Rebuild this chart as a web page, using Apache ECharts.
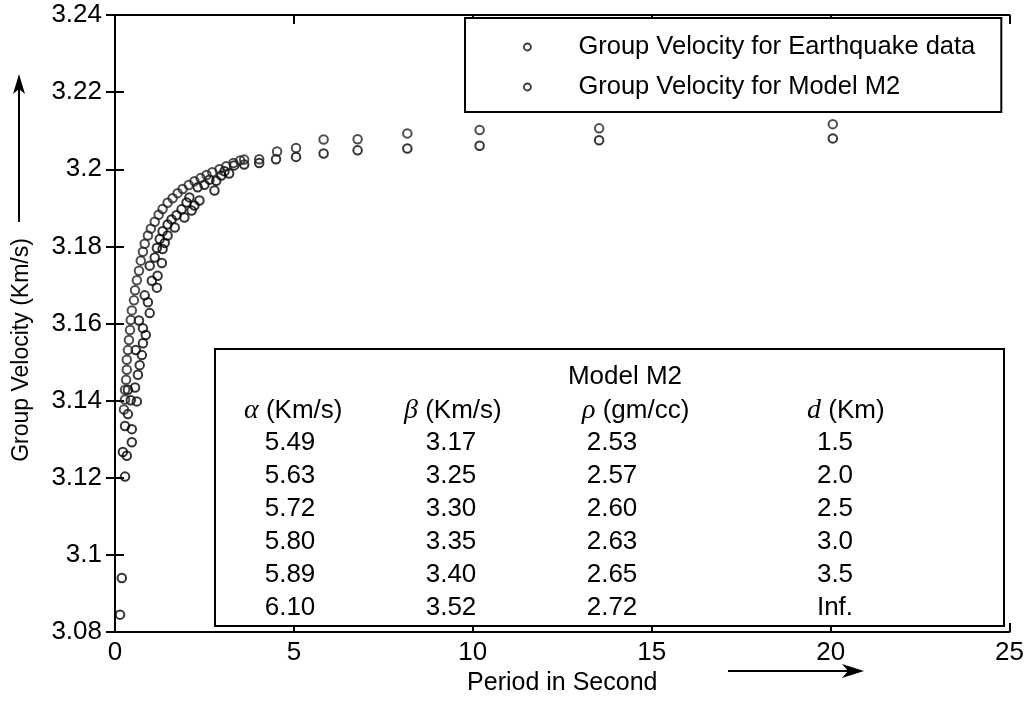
<!DOCTYPE html>
<html><head><meta charset="utf-8">
<script src="https://cdn.jsdelivr.net/npm/echarts@6/dist/echarts.min.js"></script>
<style>html,body{margin:0;padding:0;background:#fff}#c{width:1027px;height:703px}</style>
</head><body><div id="c"></div>
<script>
const FONT = '"Liberation Sans", Arial, Helvetica, sans-serif';
const GREEK = '"Liberation Serif", "DejaVu Serif", serif';

// axis ticks
const xTicks = [0, 5, 10, 15, 20, 25];
const yTicks = [3.08, 3.10, 3.12, 3.14, 3.16, 3.18, 3.20, 3.22, 3.24];

// series names
const seriesNames = ['Group Velocity for Earthquake data', 'Group Velocity for Model M2'];

// Earthquake data (period s, group velocity km/s)
const quakeX = [0.14,0.19,0.28,0.22,0.33,0.47,0.47,0.28,0.36,0.36,0.44,0.61,0.56,0.64,0.69,0.75,0.58,0.78,0.86,0.78,0.67,0.97,0.92,0.83,1.17,1.03,1.19,0.97,1.31,1.11,1.33,1.17,1.39,1.25,1.47,1.33,1.67,1.47,1.58,1.94,1.72,2.14,1.86,2.22,2.00,2.36,2.08,2.78,2.31,2.50,2.83,2.64,2.97,3.19,3.06,3.33,3.61,4.03,4.50,5.06,5.83,6.78,8.17,10.19,13.53,20.06];
const quakeY = [3.0845,3.0940,3.1203,3.1267,3.1257,3.1292,3.1326,3.1334,3.1365,3.1428,3.1401,3.1398,3.1434,3.1467,3.1492,3.1518,3.1531,3.1549,3.1570,3.1588,3.1608,3.1627,3.1655,3.1673,3.1693,3.1711,3.1724,3.1750,3.1757,3.1771,3.1793,3.1796,3.1809,3.1819,3.1828,3.1839,3.1849,3.1857,3.1870,3.1875,3.1881,3.1893,3.1896,3.1906,3.1914,3.1919,3.1927,3.1945,3.1953,3.1960,3.1970,3.1973,3.1984,3.1989,3.1995,3.2010,3.2012,3.2016,3.2026,3.2032,3.2041,3.2049,3.2054,3.2061,3.2075,3.2080];

// Model M2
const modelX = [0.25,0.28,0.28,0.31,0.33,0.33,0.36,0.39,0.42,0.44,0.47,0.53,0.56,0.61,0.67,0.72,0.78,0.83,0.92,1.00,1.11,1.22,1.33,1.47,1.61,1.75,1.89,2.06,2.22,2.39,2.56,2.72,2.92,3.11,3.31,3.50,3.61,4.03,4.53,5.06,5.83,6.78,8.17,10.19,13.53,20.06];
const modelY = [3.1377,3.1403,3.1428,3.1454,3.1480,3.1506,3.1531,3.1557,3.1583,3.1609,3.1634,3.1660,3.1686,3.1712,3.1737,3.1763,3.1786,3.1807,3.1828,3.1846,3.1864,3.1882,3.1897,3.1913,3.1925,3.1938,3.1949,3.1959,3.1969,3.1977,3.1985,3.1992,3.2000,3.2008,3.2016,3.2023,3.2025,3.2026,3.2046,3.2055,3.2077,3.2078,3.2093,3.2102,3.2106,3.2117];

// Inset table (Model M2)
const tableTitle = 'Model M2';
const tableHeaders = ['{g|α} (Km/s)', '{g|β} (Km/s)', '{g|ρ} (gm/cc)', '{g|d} (Km)'];
const alphaVals = ['5.49','5.63','5.72','5.80','5.89','6.10'];
const betaVals  = ['3.17','3.25','3.30','3.35','3.40','3.52'];
const rhoVals   = ['2.53','2.57','2.60','2.63','2.65','2.72'];
const dVals     = ['1.5','2.0','2.5','3.0','3.5','Inf.'];

const zip = (a, b) => a.map((v, i) => [v, b[i]]);

const axisLine = {show: true, lineStyle: {color: '#000', width: 2}};
const tickIn = {show: true, inside: true, length: 9, lineStyle: {color: '#000', width: 2}};
const labelStyle = {color: '#000', fontSize: 26, fontFamily: FONT};

const xBase = {type: 'value', min: xTicks[0], max: xTicks[xTicks.length-1], interval: xTicks[1]-xTicks[0], splitLine: {show: false}, axisLine, axisTick: tickIn};
const yBase = {type: 'value', min: yTicks[0], max: yTicks[yTicks.length-1], interval: +(yTicks[1]-yTicks[0]).toFixed(2), splitLine: {show: false}, axisLine, axisTick: tickIn};

// table layout
const colX = [290, 451, 612, 835];
const headerX = [244, 404, 582, 807];
const rowY0 = 443, rowStep = 33, headerY = 411;
const cols = [alphaVals, betaVals, rhoVals, dVals];
const tableGraphics = [
  {type: 'rect', shape: {x: 215, y: 349, width: 789, height: 277}, style: {fill: '#fff', stroke: '#000', lineWidth: 2}, z: 100},
  {type: 'text', x: 625, y: 377, style: {text: tableTitle, fill: '#000', fontSize: 26, fontFamily: FONT, align: 'center', verticalAlign: 'middle'}, z: 101}
];
tableHeaders.forEach((h, c) => {
  tableGraphics.push({type: 'text', x: headerX[c], y: headerY, style: {text: h, fill: '#000', fontSize: 26, fontFamily: FONT, align: 'left', verticalAlign: 'middle',
    rich: {g: {fontSize: 28, fontFamily: GREEK, fontStyle: 'italic', fill: '#000'}}}, z: 101});
});
cols.forEach((vals, c) => vals.forEach((v, r) => {
  tableGraphics.push({type: 'text', x: colX[c], y: rowY0 + r*rowStep, style: {text: v, fill: '#000', fontSize: 26, fontFamily: FONT, align: 'center', verticalAlign: 'middle'}, z: 101});
}));

const chart = echarts.init(document.getElementById('c'), null, {renderer: 'canvas'});
chart.setOption({
  animation: false,
  backgroundColor: '#fff',
  grid: {left: 115, right: 15, top: 15, bottom: 71, containLabel: false},
  xAxis: [
    Object.assign({}, xBase, {position: 'bottom', axisLabel: Object.assign({margin: 8}, labelStyle),
      name: 'Period in Second', nameLocation: 'middle', nameGap: 32, nameTextStyle: {color: '#000', fontSize: 25, fontFamily: FONT}}),
    Object.assign({}, xBase, {position: 'top', axisLabel: {show: false}})
  ],
  yAxis: [
    Object.assign({}, yBase, {position: 'left', axisLabel: Object.assign({margin: 13, formatter: v => String(+v.toFixed(2))}, labelStyle)}),
    Object.assign({}, yBase, {position: 'right', axisLabel: {show: false}})
  ],
  legend: {
    orient: 'vertical', left: 465, top: 18,
    data: seriesNames,
    itemWidth: 92, itemHeight: 7, itemGap: 14, symbolKeepAspect: true,
    padding: [16, 26, 12, 58],
    borderColor: '#000', borderWidth: 2, backgroundColor: '#fff',
    textStyle: {color: '#000', fontSize: 25.5, fontFamily: FONT},
    itemStyle: {color: 'rgba(0,0,0,0)', borderColor: '#000', borderWidth: 1.8}
  },
  series: [
    {name: seriesNames[0], type: 'scatter', data: zip(quakeX, quakeY), symbol: 'circle', symbolSize: 8.5,
      itemStyle: {color: 'rgba(0,0,0,0)', borderColor: '#000', borderWidth: 2}},
    {name: seriesNames[1], type: 'scatter', data: zip(modelX, modelY), symbol: 'circle', symbolSize: 8.5,
      itemStyle: {color: 'rgba(0,0,0,0)', borderColor: '#222', borderWidth: 2}}
  ],
  graphic: tableGraphics.concat([
    {type: 'text', x: 22, y: 350, rotation: Math.PI/2, style: {text: 'Group Velocity (Km/s)', fill: '#000', fontSize: 23, fontFamily: FONT, align: 'center', verticalAlign: 'middle'}},
    {type: 'line', shape: {x1: 19, y1: 222, x2: 19, y2: 88}, style: {stroke: '#000', lineWidth: 2}},
    {type: 'polygon', shape: {points: [[19, 74], [13, 94], [19, 89], [25, 94]]}, style: {fill: '#000'}},
    {type: 'line', shape: {x1: 728, y1: 671, x2: 848, y2: 671}, style: {stroke: '#000', lineWidth: 2}},
    {type: 'polygon', shape: {points: [[864, 671], [842, 664], [848, 671], [842, 678]]}, style: {fill: '#000'}}
  ])
});
</script>
</body></html>
